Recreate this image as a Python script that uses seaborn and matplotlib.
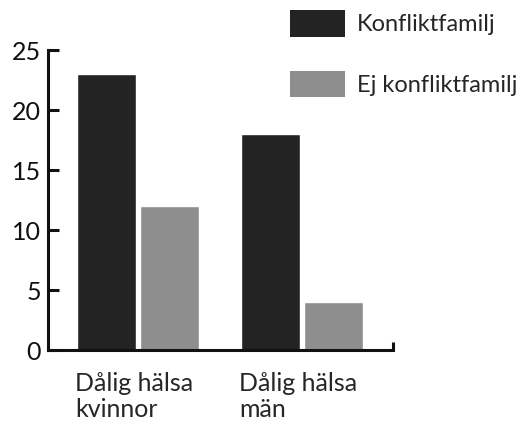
import matplotlib
matplotlib.use("Agg")
import matplotlib.pyplot as plt
import matplotlib.transforms as mtransforms
from matplotlib.patches import Patch
import pandas as pd
import seaborn as sns

CATEGORIES = ["Dålig hälsa\nkvinnor", "Dålig hälsa\nmän"]
SERIES = ["Konfliktfamilj", "Ej konfliktfamilj"]
KONFLIKT = [23, 18]
EJ_KONFLIKT = [12, 4]
YTICKS = [0, 5, 10, 15, 20, 25]

COLORS = ["#232323", "#8e8e8e"]


def main():
    df = pd.DataFrame({
        "grupp": CATEGORIES * 2,
        "familj": [SERIES[0]] * 2 + [SERIES[1]] * 2,
        "varde": KONFLIKT + EJ_KONFLIKT,
    })

    sns.set_style("white")
    plt.rcParams["font.family"] = ["Lato", "DejaVu Sans"]

    fig = plt.figure(figsize=(5.23, 4.26), dpi=100)
    ax = fig.add_axes([48 / 523, 76 / 426, 345 / 523, 300 / 426])

    sns.barplot(data=df, x="grupp", y="varde", hue="familj", palette=COLORS,
                width=0.76, gap=0.05, ax=ax, legend=False, saturation=1)

    ax.set_xlim(-0.549, 1.555)
    ax.set_ylim(0, 25)
    ax.set_yticks(YTICKS)
    ax.set_xlabel("")
    ax.set_ylabel("")

    for s in ["top", "right"]:
        ax.spines[s].set_visible(False)
    for s in ["left", "bottom"]:
        ax.spines[s].set_linewidth(2.2)
        ax.spines[s].set_color("#111111")

    ax.tick_params(axis="y", direction="in", length=8, width=2.2, colors="#111111",
                   labelsize=18, pad=5, left=True)
    ax.tick_params(axis="x", length=0, labelsize=18, pad=16)

    # left-align category labels under the first bar of each group
    offset = mtransforms.ScaledTranslation(-0.63, 0, fig.dpi_scale_trans)
    for lab in ax.get_xticklabels():
        lab.set_horizontalalignment("left")
        lab.set_transform(lab.get_transform() + offset)
        lab.set_linespacing(1.15)

    # small upward tick at the end of the x axis
    ax.set_xticks([1.555], minor=True)
    ax.tick_params(axis="x", which="minor", direction="in", length=6, width=2.2,
                   colors="#111111", bottom=True)

    handles = [Patch(facecolor=c, edgecolor="none") for c in COLORS]
    fig.legend(handles, SERIES, loc="upper left", bbox_to_anchor=(290 / 523, 1 - 10 / 426),
               frameon=False, fontsize=17, handlelength=2.35, handleheight=1.35,
               handletextpad=0.5, labelspacing=1.45, borderaxespad=0, borderpad=0)

    fig.savefig("out.png", dpi=100)


if __name__ == "__main__":
    main()
